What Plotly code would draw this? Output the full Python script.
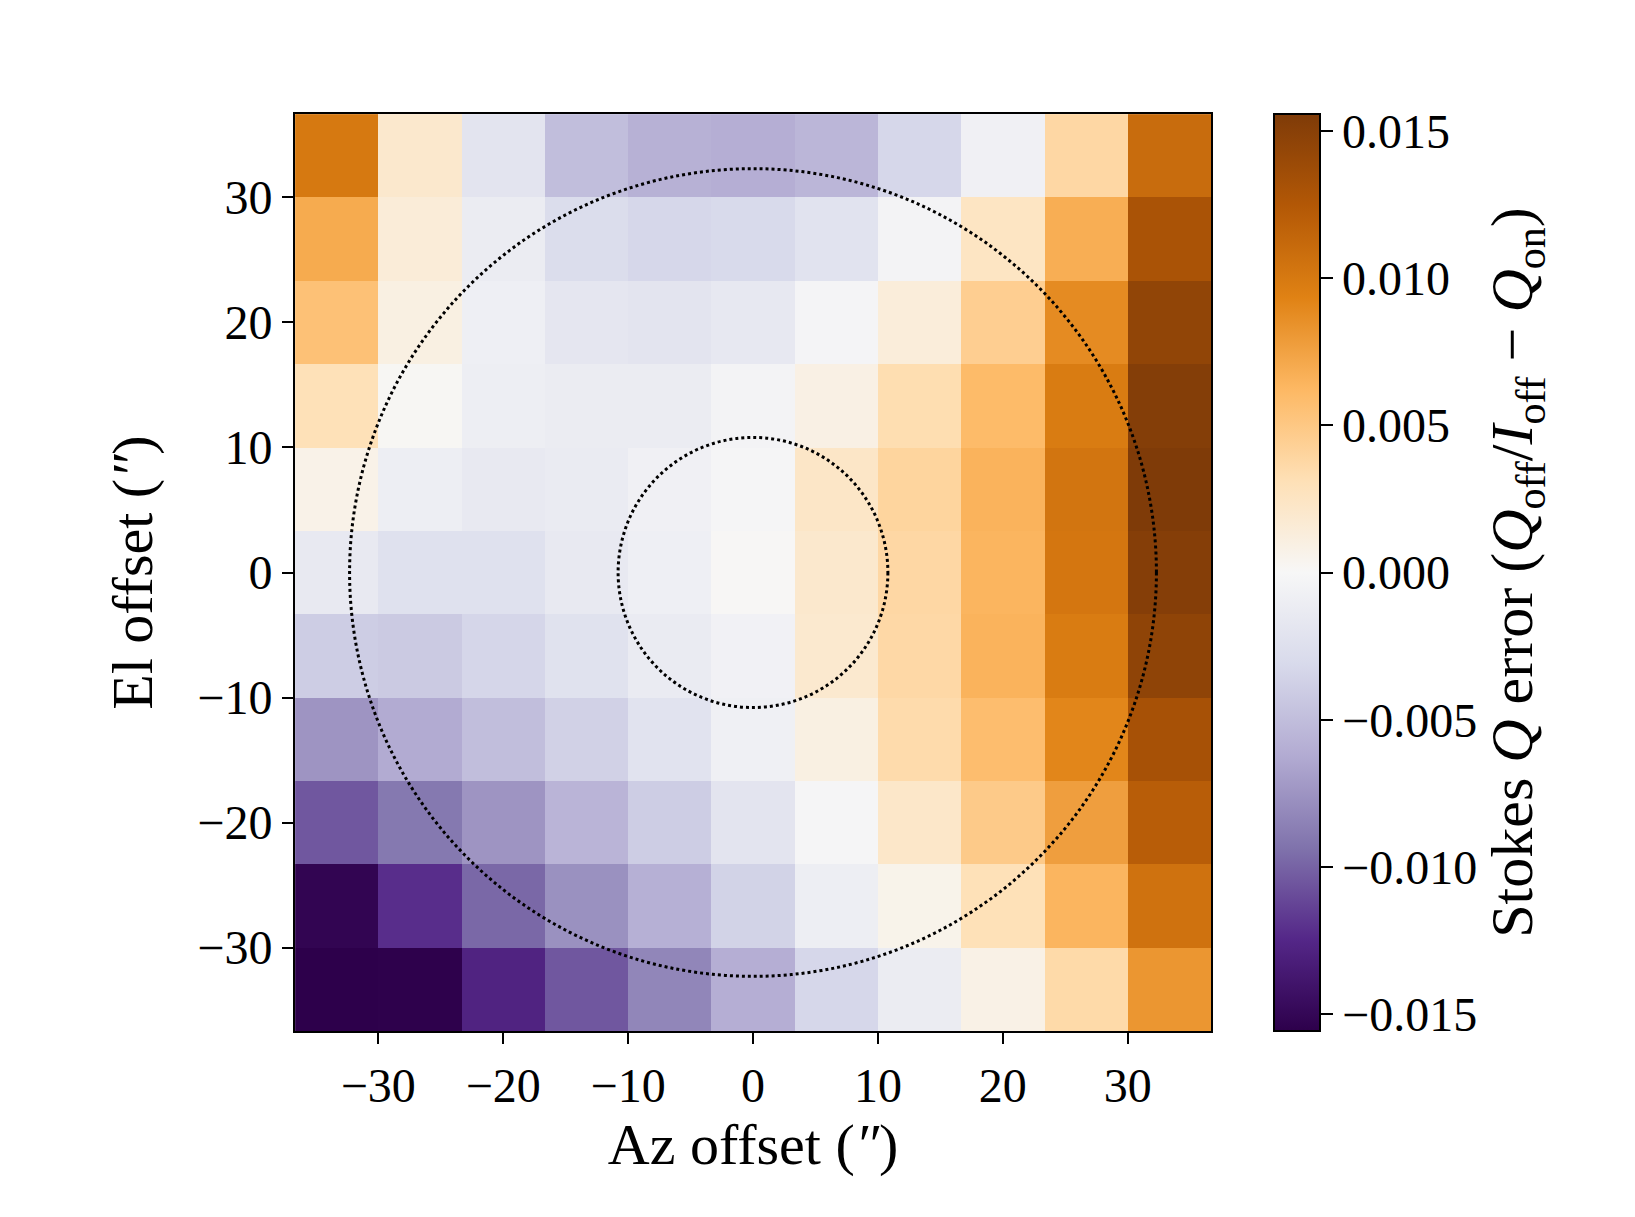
import plotly.graph_objects as go

# Cell centres (arcsec)
az_offsets = [-33.33, -26.67, -20.0, -13.33, -6.67, 0.0, 6.67, 13.33, 20.0, 26.67, 33.33]
el_offsets = [-33.33, -26.67, -20.0, -13.33, -6.67, 0.0, 6.67, 13.33, 20.0, 26.67, 33.33]

# Stokes Q error rows, from El = -33.3 (bottom) to El = +33.3 (top); columns Az -33.3 .. +33.3
row_el_m33 = [-0.0156, -0.0155, -0.0128, -0.0105, -0.0083, -0.0060, -0.0033, -0.0012, 0.0008, 0.0036, 0.0082]
row_el_m27 = [-0.0152, -0.0122, -0.0098, -0.0077, -0.0059, -0.0036, -0.0010, 0.0006, 0.0030, 0.0064, 0.0105]
row_el_m20 = [-0.0105, -0.0090, -0.0075, -0.0056, -0.0040, -0.0020, -0.0002, 0.0022, 0.0048, 0.0077, 0.0121]
row_el_m13 = [-0.0075, -0.0062, -0.0050, -0.0037, -0.0022, -0.0008, 0.0010, 0.0035, 0.0058, 0.0091, 0.0132]
row_el_m07 = [-0.0040, -0.0042, -0.0034, -0.0023, -0.0013, -0.0006, 0.0019, 0.0037, 0.0065, 0.0098, 0.0146]
row_el_0 = [-0.0015, -0.0024, -0.0024, -0.0015, -0.0009, 0.0001, 0.0020, 0.0038, 0.0064, 0.0102, 0.0152]
row_el_p07 = [0.0007, -0.0010, -0.0015, -0.0013, -0.0007, -0.0002, 0.0023, 0.0040, 0.0065, 0.0103, 0.0156]
row_el_p13 = [0.0030, 0.0002, -0.0010, -0.0012, -0.0012, -0.0004, 0.0009, 0.0033, 0.0060, 0.0098, 0.0153]
row_el_p20 = [0.0055, 0.0010, -0.0009, -0.0018, -0.0020, -0.0016, -0.0003, 0.0014, 0.0045, 0.0088, 0.0145]
row_el_p27 = [0.0070, 0.0015, -0.0012, -0.0028, -0.0033, -0.0031, -0.0022, -0.0004, 0.0025, 0.0068, 0.0130]
row_el_p33 = [0.0100, 0.0020, -0.0020, -0.0050, -0.0058, -0.0060, -0.0055, -0.0033, -0.0007, 0.0038, 0.0110]

q_error = [row_el_m33, row_el_m27, row_el_m20, row_el_m13, row_el_m07, row_el_0,
           row_el_p07, row_el_p13, row_el_p20, row_el_p27, row_el_p33]

# Dotted circles (radius in arcsec)
circle_radii = [10.8, 32.3]

tick_vals = [-30, -20, -10, 0, 10, 20, 30]
tick_text = ["\u221230", "\u221220", "\u221210", "0", "10", "20", "30"]
cbar_vals = [-0.015, -0.010, -0.005, 0.0, 0.005, 0.010, 0.015]
cbar_text = ["\u22120.015", "\u22120.010", "\u22120.005", "0.000", "0.005", "0.010", "0.015"]

zlim = 0.01557

puor_r = ["#2d004b", "#542788", "#8073ac", "#b2abd2", "#d8daeb", "#f7f7f7",
          "#fee0b6", "#fdb863", "#e08214", "#b35806", "#7f3b08"]
colorscale = [[i / (len(puor_r) - 1), c] for i, c in enumerate(puor_r)]

FONT = "Liberation Serif"
FS = 48
TS = 58
CTS = 60

fig = go.Figure()
fig.add_trace(go.Heatmap(
    x=az_offsets, y=el_offsets, z=q_error,
    colorscale=colorscale, zmin=-zlim, zmax=zlim,
    colorbar=dict(
        thickness=46, len=1.0, lenmode="fraction", y=0.5, yanchor="middle",
        x=1.0685, xanchor="left", xpad=0, ypad=0,
        outlinewidth=2, outlinecolor="black",
        ticks="outside", ticklen=12, tickwidth=2, tickcolor="black",
        tickvals=cbar_vals, ticktext=cbar_text,
        tickfont=dict(family=FONT, size=FS, color="black"),
        title=dict(
            text="Stokes <i>Q</i> error (<i>Q</i><sub>off</sub>/<i>I</i><sub>off</sub> \u2212 <i>Q</i><sub>on</sub>)",
            side="right", font=dict(family=FONT, size=CTS, color="black")),
    ),
))

for r in circle_radii:
    fig.add_shape(type="circle", xref="x", yref="y", x0=-r, x1=r, y0=-r, y1=r,
                  line=dict(color="black", width=3, dash="dot"))

axis_common = dict(
    showgrid=False, zeroline=False, showline=True, linecolor="black", linewidth=2,
    mirror=True, ticks="outside", ticklen=11, tickwidth=2, tickcolor="black",
    tickvals=tick_vals, ticktext=tick_text,
    tickfont=dict(family=FONT, size=FS, color="black"),
    range=[-36.67, 36.67],
)
fig.update_xaxes(**axis_common, title=dict(text="Az offset (<i>\u2033</i>)",
                                           font=dict(family=FONT, size=TS, color="black"), standoff=12))
fig.update_yaxes(**axis_common, title=dict(text="El offset (<i>\u2033</i>)",
                                           font=dict(family=FONT, size=TS, color="black"), standoff=26))

fig.update_layout(
    width=1635, height=1217,
    margin=dict(l=287, r=432, t=106, b=194),
    paper_bgcolor="white", plot_bgcolor="white",
    font=dict(family=FONT, size=FS, color="black"),
)

fig.write_html("out.html")
